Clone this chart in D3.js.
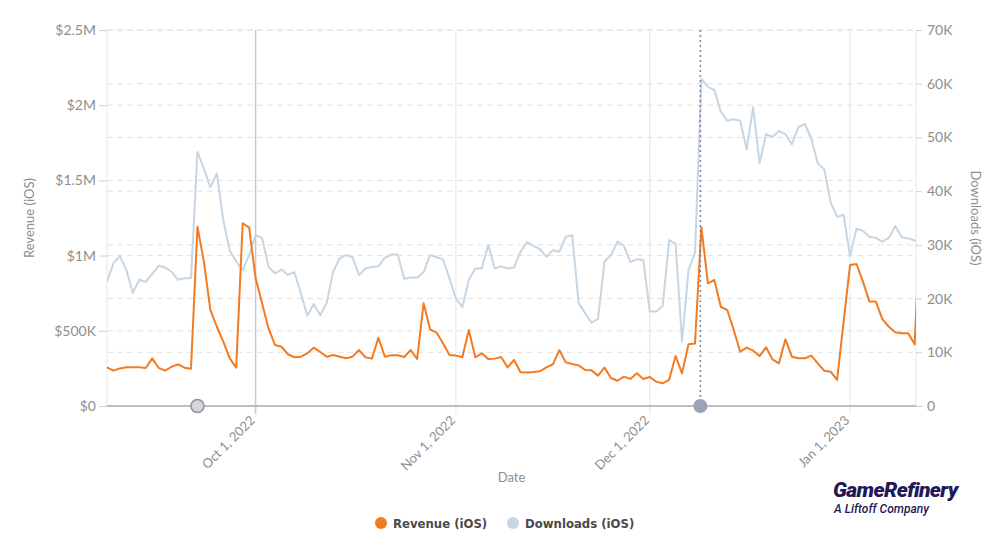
<!DOCTYPE html>
<html>
<head>
<meta charset="utf-8">
<script src="https://cdn.jsdelivr.net/npm/d3@7"></script>
<style>
  body { margin: 0; background: #fff; }
  svg { display: block; font-family: Lato, "Open Sans", sans-serif; }
</style>
</head>
<body>
<svg width="1000" height="542"></svg>
<script>
// daily values, Sep 8 2022 -> Jan 12 2023
const startDay = new Date(2022, 8, 8);
const revenue = [ // $K
  257, 235, 250, 257, 257, 257, 253, 317, 253, 235,
  261, 277, 255, 248, 1192, 960, 638, 527, 428, 317,
  255, 1215, 1186, 849, 683, 516, 406, 394, 344, 324,
  328, 350, 388, 359, 328, 339, 328, 317, 328, 372,
  324, 315, 454, 328, 337, 337, 326, 372, 313, 683,
  510, 488, 417, 339, 335, 324, 505, 324, 350, 313,
  315, 326, 257, 306, 224, 222, 226, 231, 257, 277,
  372, 290, 279, 270, 239, 237, 202, 255, 186, 168,
  195, 180, 217, 180, 193, 162, 151, 173, 332, 217,
  410, 415, 1188, 816, 838, 660, 638, 505, 361, 388,
  368, 332, 390, 310, 284, 443, 328, 317, 317, 335,
  284, 235, 228, 173, 560, 937, 944, 827, 694, 694,
  578, 527, 490, 483, 483, 410, 1350
];
const downloads = [ // K
  23.1, 26.6, 27.9, 25.3, 21.1, 23.5, 23.1, 24.6, 26.1, 25.8,
  25.0, 23.5, 23.8, 23.8, 47.3, 44.2, 40.7, 43.3, 34.6, 28.9,
  26.9, 25.3, 28.1, 31.8, 31.3, 25.9, 24.7, 25.4, 24.4, 24.9,
  21.0, 16.8, 19.0, 16.9, 19.2, 25.0, 27.5, 28.1, 27.7, 24.4,
  25.6, 25.9, 26.0, 27.6, 28.2, 28.2, 23.7, 23.9, 23.9, 24.9,
  28.1, 27.7, 27.3, 23.8, 20.0, 18.4, 23.5, 25.6, 25.6, 30.0,
  25.6, 26.0, 25.6, 25.8, 28.7, 30.5, 29.8, 29.2, 27.8, 29.0,
  28.7, 31.5, 31.8, 19.1, 17.3, 15.5, 16.2, 26.9, 28.1, 30.6,
  29.8, 26.8, 27.3, 27.2, 17.6, 17.6, 18.6, 30.9, 30.2, 12.0,
  25.3, 28.5, 60.9, 59.4, 58.8, 54.8, 53.1, 53.4, 53.1, 47.8,
  55.6, 45.2, 50.6, 50.1, 51.2, 50.6, 48.7, 51.9, 52.5, 49.8,
  45.2, 44.1, 37.9, 35.2, 35.6, 27.9, 33.0, 32.6, 31.5, 31.3,
  30.6, 31.3, 33.5, 31.4, 31.2, 30.8, 30.5
];
const revTicks = [0, 500, 1000, 1500, 2000, 2500];
const revTickLabels = ["$0", "$500K", "$1M", "$1.5M", "$2M", "$2.5M"];
const dlTicks = [0, 10, 20, 30, 40, 50, 60, 70];
const dlTickLabels = ["0", "10K", "20K", "30K", "40K", "50K", "60K", "70K"];
const monthTicks = [new Date(2022, 9, 1), new Date(2022, 10, 1), new Date(2022, 11, 1), new Date(2023, 0, 1)];
const markers = [new Date(2022, 8, 22), new Date(2022, 11, 8, 20)];
const seriesNames = ["Revenue (iOS)", "Downloads (iOS)"];
const seriesColors = ["#f47a1f", "#c6d6e3"];

const svg = d3.select("svg");
const margin = { top: 30, right: 84, bottom: 136, left: 107 };
const W = 1000, H = 542;
const grey = "#8e8e8e";

const data = revenue.map((r, i) => ({
  date: d3.timeDay.offset(startDay, i),
  rev: r * 1000,
  dl: downloads[i] * 1000
}));

const x = d3.scaleTime()
  .domain([startDay, d3.timeHour.offset(new Date(2023, 0, 11), 5)])
  .range([margin.left, W - margin.right]);
const yL = d3.scaleLinear().domain([0, 2500000]).range([H - margin.bottom, margin.top]);
const yR = d3.scaleLinear().domain([0, 70000]).range([H - margin.bottom, margin.top]);

const x0 = margin.left, x1 = W - margin.right, yb = H - margin.bottom;

// gridlines (dashed, both axes)
svg.append("g").selectAll("line")
  .data(revTicks.slice(1))
  .join("line")
  .attr("x1", x0).attr("x2", x1)
  .attr("y1", d => yL(d * 1000)).attr("y2", d => yL(d * 1000))
  .attr("stroke", "#e2e2e2").attr("stroke-dasharray", "6,4");
svg.append("g").selectAll("line")
  .data(dlTicks.slice(1))
  .join("line")
  .attr("x1", x0).attr("x2", x1)
  .attr("y1", d => yR(d * 1000)).attr("y2", d => yR(d * 1000))
  .attr("stroke", "#e2e2e2").attr("stroke-dasharray", "6,4");

// month lines
svg.append("g").selectAll("line")
  .data(monthTicks)
  .join("line")
  .attr("x1", d => x(d)).attr("x2", d => x(d))
  .attr("y1", margin.top).attr("y2", yb + 8)
  .attr("stroke", (d, i) => i === 0 ? "#c9c9c9" : "#e6e6e6")
  .attr("stroke-width", (d, i) => i === 0 ? 1.5 : 1);

// plot frame sides
svg.append("line").attr("x1", x0).attr("x2", x0).attr("y1", margin.top).attr("y2", yb).attr("stroke", "#e6e6e6");
svg.append("line").attr("x1", x1).attr("x2", x1).attr("y1", margin.top).attr("y2", yb).attr("stroke", "#e6e6e6");

// lines
svg.append("clipPath").attr("id", "clip")
  .append("rect").attr("x", x0).attr("y", 0).attr("width", x1 - x0).attr("height", H);

const plot = svg.append("g").attr("clip-path", "url(#clip)");
plot.append("path")
  .datum(data)
  .attr("fill", "none")
  .attr("stroke", seriesColors[1])
  .attr("stroke-width", 2)
  .attr("stroke-linejoin", "round")
  .attr("d", d3.line().x(d => x(d.date)).y(d => yR(d.dl)));
plot.append("path")
  .datum(data)
  .attr("fill", "none")
  .attr("stroke", seriesColors[0])
  .attr("stroke-width", 2)
  .attr("stroke-linejoin", "round")
  .attr("d", d3.line().x(d => x(d.date)).y(d => yL(d.rev)));

// dotted annotation line
svg.append("line")
  .attr("x1", x(markers[1])).attr("x2", x(markers[1]))
  .attr("y1", margin.top).attr("y2", yb)
  .attr("stroke", "#7d8496").attr("stroke-width", 1.5)
  .attr("stroke-dasharray", "2,3");

// bottom axis line
svg.append("line").attr("x1", x0).attr("x2", x1).attr("y1", yb).attr("y2", yb)
  .attr("stroke", "#bdbdbd").attr("stroke-width", 2);

// markers
svg.append("circle").attr("cx", x(markers[0])).attr("cy", yb).attr("r", 6.5)
  .attr("fill", "#d6d6d6").attr("stroke", "#8e94a8").attr("stroke-width", 1.5);
svg.append("circle").attr("cx", x(markers[1])).attr("cy", yb).attr("r", 7)
  .attr("fill", "#9ca1b7");

// left axis
const axL = svg.append("g")
  .attr("transform", `translate(${x0},0)`)
  .call(d3.axisLeft(yL)
    .tickValues(revTicks.map(d => d * 1000))
    .tickFormat((d, i) => revTickLabels[i])
    .tickSize(8).tickPadding(3));
axL.select(".domain").remove();
axL.selectAll("line").attr("stroke", "#d0d0d0");
axL.selectAll("text").attr("fill", grey).style("font-size", "14px").style("font-family", "Lato, sans-serif");

// right axis
const axR = svg.append("g")
  .attr("transform", `translate(${x1},0)`)
  .call(d3.axisRight(yR)
    .tickValues(dlTicks.map(d => d * 1000))
    .tickFormat((d, i) => dlTickLabels[i])
    .tickSize(6).tickPadding(5));
axR.select(".domain").remove();
axR.selectAll("line").attr("stroke", "#d0d0d0");
axR.selectAll("text").attr("fill", grey).style("font-size", "14px").style("font-family", "Lato, sans-serif");

// x tick labels
svg.append("g").selectAll("text")
  .data(monthTicks)
  .join("text")
  .attr("transform", d => `translate(${x(d) - 3},${yb + 12}) rotate(-45)`)
  .attr("text-anchor", "end")
  .attr("dy", "0.35em")
  .attr("fill", grey)
  .style("font-size", "13px")
  .text(d3.timeFormat("%b %-d, %Y"));

// axis titles
svg.append("text")
  .attr("transform", `translate(34,${(margin.top + yb) / 2}) rotate(-90)`)
  .attr("text-anchor", "middle")
  .attr("fill", grey).style("font-size", "13px")
  .text("Revenue (iOS)");
svg.append("text")
  .attr("transform", `translate(971,${(margin.top + yb) / 2}) rotate(90)`)
  .attr("text-anchor", "middle")
  .attr("fill", grey).style("font-size", "13px")
  .text("Downloads (iOS)");
svg.append("text")
  .attr("x", (x0 + x1) / 2).attr("y", 482)
  .attr("text-anchor", "middle")
  .attr("fill", grey).style("font-size", "13px")
  .text("Date");

// legend
const legend = svg.append("g").attr("transform", "translate(381,523)");
const legX = [0, 132];
seriesNames.forEach((n, i) => {
  const g = legend.append("g").attr("transform", `translate(${legX[i]},0)`);
  g.append("circle").attr("r", 6).attr("fill", seriesColors[i]);
  g.append("text")
    .attr("x", 12).attr("dy", "0.35em")
    .attr("fill", "#4a4a4a")
    .style("font-family", "'DejaVu Sans Condensed', 'DejaVu Sans', sans-serif")
    .style("font-weight", "bold")
    .style("font-size", "13px")
    .text(n);
});

// logo
svg.append("text")
  .attr("x", 833).attr("y", 497)
  .attr("fill", "#231857")
  .style("font-family", "Roboto, sans-serif")
  .style("font-weight", "900").style("font-style", "italic")
  .style("font-size", "21px").style("letter-spacing", "-0.6px")
  .text("GameRefinery");
svg.append("text")
  .attr("x", 834).attr("y", 513)
  .attr("fill", "#231857")
  .style("font-family", "Roboto, sans-serif")
  .style("font-style", "italic").style("font-weight", "500")
  .style("font-size", "12px")
  .text("A Liftoff Company");
</script>
</body>
</html>
